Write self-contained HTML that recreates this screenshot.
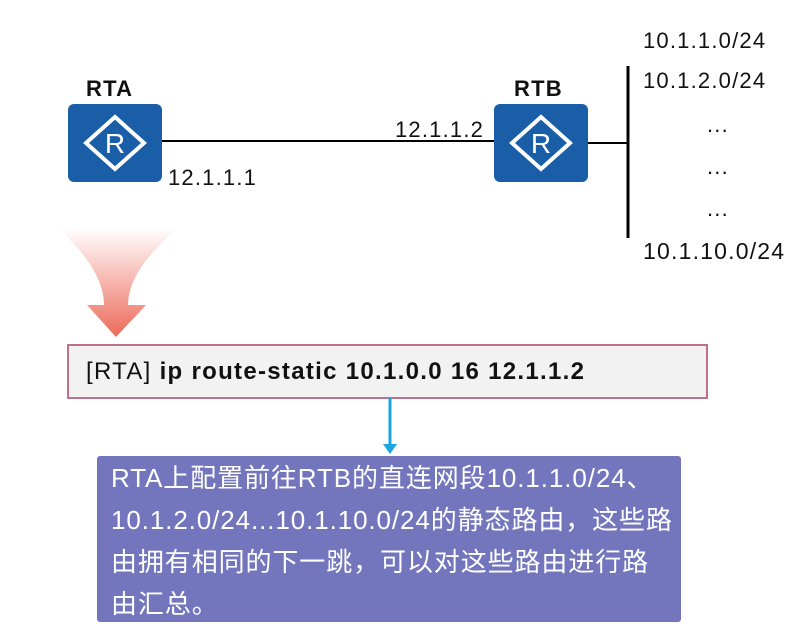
<!DOCTYPE html>
<html><head><meta charset="utf-8"><style>
body{margin:0;width:794px;height:635px;background:#fff;position:relative;overflow:hidden;font-family:"Liberation Sans","Noto Sans CJK SC",sans-serif;}
.t{position:absolute;font-size:22px;color:#111;white-space:nowrap;letter-spacing:1.2px;}
</style></head><body>
<svg width="794" height="635" style="position:absolute;left:0;top:0">
<defs>
<linearGradient id="g" x1="0" y1="0" x2="0" y2="1">
<stop offset="0" stop-color="#ee6b5c" stop-opacity="0"/>
<stop offset="1" stop-color="#ec6a58"/>
</linearGradient>
<symbol id="rt" viewBox="0 0 94 78">
<rect width="94" height="78" rx="6" fill="#1a5ea8"/>
<polygon points="47,13 76,39 47,65 18,39" fill="none" stroke="#fff" stroke-width="4"/>
<text x="47" y="49" font-size="28" fill="#fff" text-anchor="middle" font-family="Liberation Sans">R</text>
</symbol>
</defs>
<line x1="162" y1="141" x2="494" y2="141" stroke="#000" stroke-width="2"/>
<line x1="588" y1="143" x2="628" y2="143" stroke="#000" stroke-width="2"/>
<line x1="628" y1="66" x2="628" y2="238" stroke="#000" stroke-width="3"/>
<use href="#rt" x="68" y="104" width="94" height="78"/>
<use href="#rt" x="494" y="104" width="94" height="78"/>
<path d="M58,228 L178,228 Q128,270 128,305 L146,305 L116,337 L87,305 L104,305 Q104,270 58,228 Z" fill="url(#g)"/>
<rect x="68" y="345" width="639" height="53" fill="#f2f2f2" stroke="#c0708a" stroke-width="2"/>
<line x1="390" y1="398" x2="390" y2="446" stroke="#1aa7e0" stroke-width="3"/>
<polygon points="383,444 397,444 390,454" fill="#1aa7e0"/>
<rect x="97" y="456" width="584" height="166" rx="3" fill="#7476bd"/>
</svg>
<div class="t" style="left:86px;top:76px;font-weight:bold;">RTA</div>
<div class="t" style="left:514px;top:76px;font-weight:bold;">RTB</div>
<div class="t" style="left:168px;top:165px;">12.1.1.1</div>
<div class="t" style="left:395px;top:117px;">12.1.1.2</div>
<div class="t" style="left:643px;top:28px;">10.1.1.0/24</div>
<div class="t" style="left:643px;top:68px;">10.1.2.0/24</div>
<div class="t" style="left:707px;top:112px;">...</div>
<div class="t" style="left:707px;top:154px;">...</div>
<div class="t" style="left:707px;top:196px;">...</div>
<div class="t" style="left:643px;top:238px;font-size:23px;">10.1.10.0/24</div>
<div class="t" style="left:86px;top:358px;font-size:24px;letter-spacing:1.3px;">[RTA] <b>ip route-static 10.1.0.0 16 12.1.1.2</b></div>
<div style="position:absolute;left:111px;top:457px;width:580px;color:#fff;font-size:26px;line-height:42px;white-space:nowrap;letter-spacing:0.9px;">RTA上配置前往RTB的直连网段10.1.1.0/24、<br>10.1.2.0/24...10.1.10.0/24的静态路由，这些路<br>由拥有相同的下一跳，可以对这些路由进行路<br>由汇总。</div>
</body></html>
